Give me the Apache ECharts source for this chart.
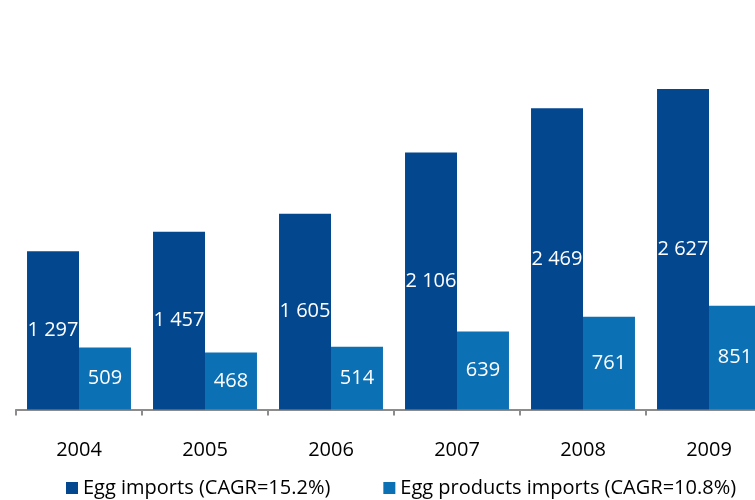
<!DOCTYPE html>
<html>
<head>
<meta charset="utf-8">
<script src="https://cdn.jsdelivr.net/npm/echarts@6/dist/echarts.min.js"></script>
<style>
  html, body { margin: 0; padding: 0; background: #ffffff; }
  #chart { width: 755px; height: 500px; }
</style>
</head>
<body>
<div id="chart"></div>
<script>
// Import volumes by year
const years = ['2004', '2005', '2006', '2007', '2008', '2009'];
const eggImports = [1297, 1457, 1605, 2106, 2469, 2627];
const eggProductImports = [509, 468, 514, 639, 761, 851];
const seriesNames = ['Egg imports (CAGR=15.2%)', 'Egg products imports (CAGR=10.8%)'];

const FONT = '"Open Sans", "Noto Sans", sans-serif';

// Thousands separated by a space, e.g. 1 297
function spaced(v) {
  return String(v).replace(/\B(?=(\d{3})+(?!\d))/g, ' ');
}

const labelStyle = {
  show: true,
  position: 'inside',
  color: '#ffffff',
  fontFamily: FONT,
  fontSize: 20,
  formatter: p => spaced(p.value)
};

const chart = echarts.init(document.getElementById('chart'));
chart.setOption({
  animation: false,
  backgroundColor: '#ffffff',
  // plot area runs past the right edge of the canvas
  grid: {
    left: 16, right: -17, top: 43.5, bottom: 90.5,
    containLabel: false,
    outerBoundsMode: 'none'
  },
  legend: {
    left: 66,
    top: 478,
    padding: 0,
    icon: 'rect',
    itemWidth: 12,
    itemHeight: 12,
    itemGap: 53,
    textStyle: { fontFamily: FONT, fontSize: 20, color: '#000000' },
    data: seriesNames
  },
  xAxis: {
    type: 'category',
    data: years,
    axisLine: { lineStyle: { color: '#8c8c8c', width: 2 } },
    axisTick: { show: true, length: 6, lineStyle: { color: '#8c8c8c', width: 2 } },
    axisLabel: { fontFamily: FONT, fontSize: 20, color: '#000000', margin: 31 }
  },
  yAxis: {
    type: 'value',
    min: 0,
    max: 3000,
    show: false,
    splitLine: { show: false }
  },
  series: [
    {
      name: seriesNames[0],
      type: 'bar',
      data: eggImports,
      barGap: '0%',
      barCategoryGap: '17.5%',
      itemStyle: { color: '#03478F' },
      label: labelStyle
    },
    {
      name: seriesNames[1],
      type: 'bar',
      data: eggProductImports,
      barGap: '0%',
      barCategoryGap: '17.5%',
      itemStyle: { color: '#0C70B4' },
      label: labelStyle
    }
  ]
});
</script>
</body>
</html>
